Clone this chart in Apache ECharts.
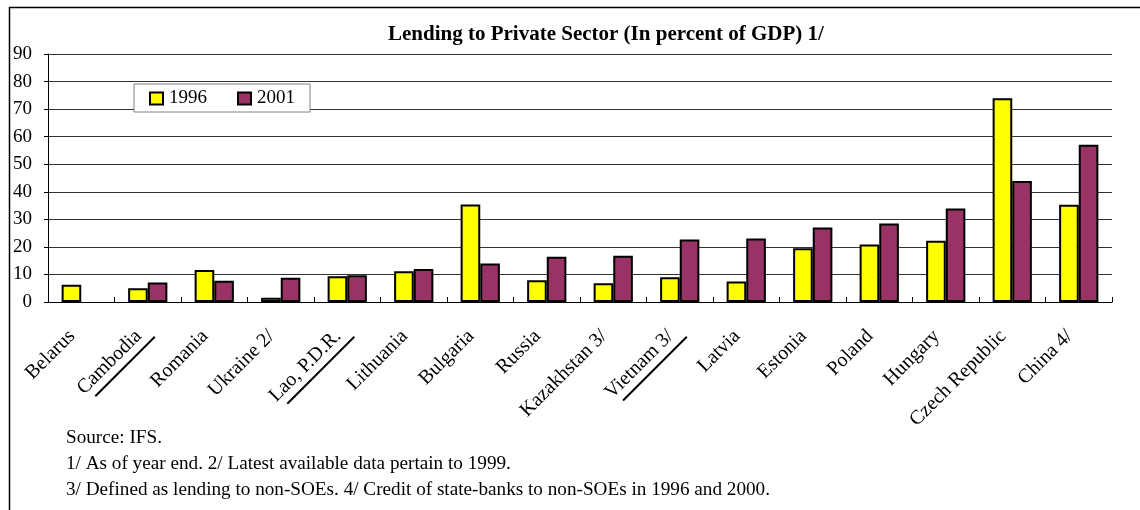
<!DOCTYPE html>
<html><head><meta charset="utf-8">
<script src="https://cdn.jsdelivr.net/npm/echarts@6/dist/echarts.min.js"></script>
<style>html,body{margin:0;padding:0;background:#fff}#c{width:1140px;height:510px}</style>
</head><body><div id="c"></div><script>
const titleText = 'Lending to Private Sector (In percent of GDP) 1/';
const categories = ['Belarus','Cambodia','Romania','Ukraine 2/','Lao, P.D.R.','Lithuania','Bulgaria','Russia','Kazakhstan 3/','Vietnam 3/','Latvia','Estonia','Poland','Hungary','Czech Republic','China 4/'];
const underlined = ['Cambodia','Lao, P.D.R.','Vietnam 3/'];
const seriesNames = ['1996','2001'];
const v1996 = [6.3, 5.0, 11.6, 1.5, 9.3, 11.2, 35.4, 7.9, 6.8, 9.0, 7.4, 19.5, 20.9, 22.2, 73.9, 35.3];
const v2001 = [null, 7.1, 7.7, 8.8, 9.7, 12.0, 14.0, 16.4, 16.8, 22.7, 23.0, 27.0, 28.5, 33.9, 43.9, 57.1];
const yTicks = [0,10,20,30,40,50,60,70,80,90];
const footnotes = ['Source: IFS.','1/ As of year end. 2/ Latest available data pertain to 1999.','3/ Defined as lending to non-SOEs. 4/ Credit of state-banks to non-SOEs in 1996 and 2000.'];

const FONT = "'Liberation Serif', 'Times New Roman', serif";
const FS = 19;
const XFS = 20;
const ctx = document.createElement('canvas').getContext('2d');
ctx.font = XFS + 'px "Liberation Serif"';
const rich = {
  t: {fontFamily: FONT, fontSize: XFS, color: '#000', lineHeight: 22, padding: [0, 13, 0, 0]},
  e: {height: 1, lineHeight: 6},
  s: {width: 4, height: 2, lineHeight: 6}
};
underlined.forEach((name, i) => {
  rich['u' + i] = {width: ctx.measureText(name).width + 2, height: 2, lineHeight: 6, backgroundColor: '#000'};
});

const chart = echarts.init(document.getElementById('c'), null, {renderer: 'canvas'});
chart.setOption({
  animation: false,
  backgroundColor: '#fff',
  title: {
    text: titleText, left: 383, top: 19,
    textStyle: {fontFamily: FONT, fontSize: 21, fontWeight: 'bold', color: '#000'}
  },
  legend: {
    data: seriesNames, left: 134, top: 84, orient: 'horizontal',
    backgroundColor: '#fff', borderColor: '#808080', borderWidth: 1,
    padding: [5, 15, 4, 15], itemGap: 30, itemWidth: 13, itemHeight: 12,
    icon: 'rect',
    itemStyle: {borderColor: '#000', borderWidth: 2},
    textStyle: {fontFamily: FONT, fontSize: FS, color: '#000', padding: [0, 0, 0, 1]}
  },
  grid: {left: 48, right: 28, top: 54, bottom: 208, containLabel: false},
  xAxis: {
    type: 'category', data: categories, boundaryGap: true,
    axisLine: {show: true, lineStyle: {color: '#000', width: 1}},
    axisTick: {show: true, inside: true, length: 5, lineStyle: {color: '#000'}},
    axisLabel: {
      interval: 0, rotate: 45, margin: 22,
      fontFamily: FONT, fontSize: XFS, color: '#000',
      formatter: function (v) {
        const i = underlined.indexOf(v);
        if (i < 0) return '{t|' + v + '}';
        return '{e|}\n{t|' + v + '}\n{u' + i + '|}{s|}';
      },
      rich: rich
    }
  },
  yAxis: {
    type: 'value', min: yTicks[0], max: yTicks[yTicks.length - 1], interval: 10,
    axisLine: {show: true, lineStyle: {color: '#000', width: 1}},
    axisTick: {show: true, inside: false, length: 4, lineStyle: {color: '#000'}},
    axisLabel: {margin: 16, fontFamily: FONT, fontSize: FS, color: '#000'},
    splitLine: {show: true, lineStyle: {color: '#333', width: 1}}
  },
  series: [
    {name: seriesNames[0], type: 'bar', data: v1996, barGap: '0%', barCategoryGap: '41%',
     itemStyle: {color: '#FFFF00', borderColor: '#000', borderWidth: 2}},
    {name: seriesNames[1], type: 'bar', data: v2001, barGap: '0%', barCategoryGap: '41%',
     itemStyle: {color: '#993366', borderColor: '#000', borderWidth: 2}}
  ],
  graphic: [
    {type: 'rect', silent: true, shape: {x: 9.5, y: 7.5, width: 1200, height: 600},
     style: {fill: 'none', stroke: '#000', lineWidth: 1.5}, z: 100}
  ].concat(footnotes.map((t, i) => ({
    type: 'text', left: 66, top: 428 + i * 26,
    style: {text: t, fontFamily: FONT, fontSize: 19.2, fill: '#000'}
  })))
});
</script></body></html>
